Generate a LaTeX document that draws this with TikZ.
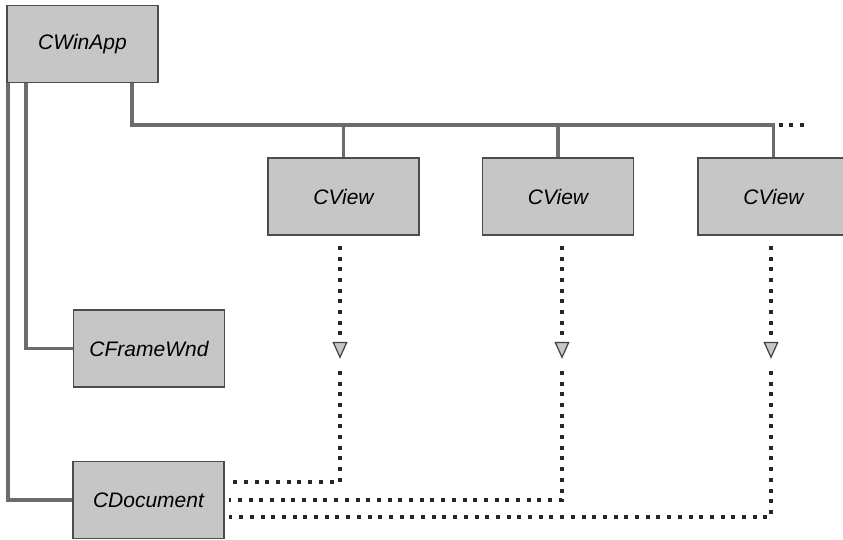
\documentclass[tikz,border=0pt]{standalone}
\usepackage{fontspec}
\setmainfont{Liberation Sans}
\usepackage{tikz}
\usetikzlibrary{arrows.meta,calc}

\begin{document}
\begin{tikzpicture}[x=1pt,y=-1pt,
  cls/.style={draw=gray!60!black,line width=1.6pt,fill=gray!45,minimum width=151pt,
    minimum height=77pt,inner sep=0pt,font=\fontsize{21pt}{25pt}\selectfont\itshape},
  link/.style={draw=gray!85!black,line width=3.6pt},
  ref/.style={draw=black!85,line width=4.2pt,dash pattern=on 4pt off 6.7pt},
  tip/.style={-{Triangle[width=15pt,length=17pt,line width=1.2pt,color=black!75,fill=gray!45]}}]
\clip (0,0) rectangle (843,539);
\node[cls] (app) at (82.5,44) {CWinApp};
\node[cls] (view1) at (343.5,196.5) {CView};
\node[cls] (view2) at (558,196.5) {CView};
\node[cls] (view3) at (773.5,196.5) {CView};
\node[cls] (frame) at (149,348.5) {CFrameWnd};
\node[cls] (doc) at (148.5,500) {CDocument};
\coordinate (bus) at (0,125);
% ownership lines
\draw[link] ([xshift=2pt]app.south west) |- (doc.west);
\draw[link] ([xshift=20pt]app.south west) |- (frame.west);
\draw[link] ([xshift=126pt]app.south west) |- (view3.north |- bus) -- (view3.north);
\draw[link] (view1.north |- bus) -- (view1.north);
\draw[link] (view2.north |- bus) -- (view2.north);
\draw[ref] ($(view3.north |- bus)+(5,0)$) -- ++(30,0);
% views refer to the document
\draw[ref,tip] ([xshift=-3.5pt,yshift=-10pt]view1.south) -- ++(0,113);
\draw[ref] ([xshift=-3.5pt,yshift=-135pt]view1.south) |- ([xshift=4pt,yshift=18pt]doc.east);
\draw[ref,tip] ([xshift=4pt,yshift=-10pt]view2.south) -- ++(0,113);
\draw[ref] ([xshift=4pt,yshift=-135pt]view2.south) |- ([xshift=4pt]doc.east);
\draw[ref,tip] ([xshift=-2.5pt,yshift=-10pt]view3.south) -- ++(0,113);
\draw[ref] ([xshift=-2.5pt,yshift=-135pt]view3.south) |- ([xshift=4pt,yshift=-17pt]doc.east);
\end{tikzpicture}
\end{document}
